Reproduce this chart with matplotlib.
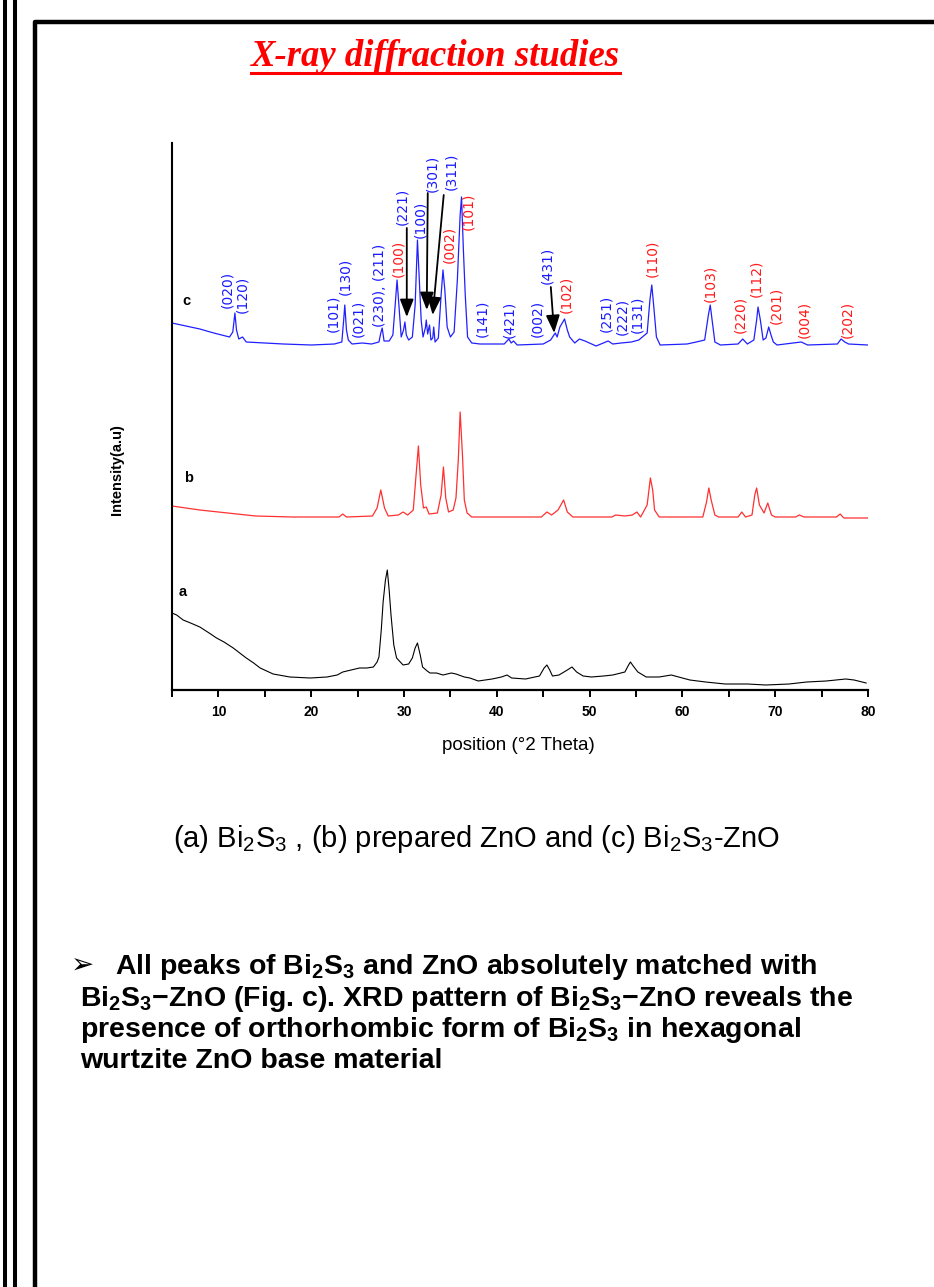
import matplotlib
matplotlib.use("Agg")
import matplotlib.pyplot as plt
from matplotlib.lines import Line2D
from matplotlib.ticker import MultipleLocator

plt.rcParams["mathtext.default"] = "regular"

W, H = 934, 1287

# (a) Bi2S3
theta_a = [5.0, 5.5, 6.2, 7.0, 8.0, 9.0, 9.8, 10.6, 11.6, 12.3, 13.0, 13.8, 14.5, 15.2,
           15.9, 17.7, 19.9, 21.7, 22.8, 23.4, 24.3, 25.2, 26.0, 26.7, 27.1, 27.3, 27.55,
           27.75, 28.0, 28.2, 28.4, 28.6, 28.9, 29.2, 29.9, 30.5, 30.9, 31.2, 31.45, 31.75,
           32.0, 32.5, 32.8, 33.5, 34.2, 35.1, 35.6, 36.5, 37.1, 38.0, 39.5, 40.5, 41.1,
           41.6, 43.1, 44.6, 45.1, 45.4, 45.7, 46.0, 46.7, 47.6, 48.1, 48.6, 49.3, 50.2,
           51.5, 52.5, 53.8, 54.2, 54.4, 54.7, 55.2, 56.1, 57.5, 58.8, 59.6, 60.8, 62.5,
           64.6, 67.0, 69.0, 71.5, 73.4, 75.5, 77.6, 78.5, 79.8]
int_a = [77, 75, 70, 67, 63, 57, 52, 48, 42, 37, 32, 27, 22, 19,
         16, 13, 12, 13, 15, 18, 20, 22, 22, 23, 28, 33, 60,
         88, 110, 120, 100, 75, 45, 32, 25, 26, 32, 42, 47, 35,
         23, 19, 17, 17, 15, 17, 16, 13, 12, 9, 11, 13, 15,
         12, 11, 14, 22, 25, 20, 14, 15, 20, 23, 18, 14, 13,
         14, 15, 18, 25, 28, 24, 18, 13, 13, 15, 13, 10, 8,
         6, 6, 5, 6, 8, 9, 11, 10, 7]

# (b) prepared ZnO - red trace
theta_b = [5.0, 8.0, 11.0, 14.0, 18.0, 23.0, 23.4, 23.8, 26.6, 27.1, 27.5, 27.9, 28.3,
           29.4, 29.9, 30.4, 31.0, 31.3, 31.55, 31.8, 32.1, 32.4, 32.7, 33.6, 34.0, 34.25,
           34.5, 34.8, 35.3, 35.6, 35.85, 36.05, 36.3, 36.5, 36.8, 37.3, 44.8, 45.4, 45.9,
           46.6, 47.2, 47.6, 48.2, 52.4, 52.8, 53.8, 54.6, 55.1, 55.5, 56.2, 56.55, 56.8,
           57.0, 57.5, 62.2, 62.6, 62.85, 63.1, 63.5, 63.9, 66.0, 66.4, 66.8, 67.5, 67.8,
           68.0, 68.3, 68.8, 69.2, 69.6, 70.0, 72.2, 72.6, 73.1, 76.6, 77.0, 77.4, 80.0]
int_b = [184, 180, 177, 174, 173, 173, 176, 173, 174, 182, 200, 182, 174,
         175, 178, 175, 180, 215, 244, 205, 182, 183, 176, 177, 195, 223,
         192, 178, 180, 192, 230, 278, 235, 190, 177, 173, 173, 178, 175,
         180, 190, 178, 173, 173, 175, 174, 175, 178, 173, 185, 212, 200,
         180, 173, 173, 188, 202, 190, 175, 173, 173, 178, 173, 175, 195,
         202, 185, 177, 187, 175, 173, 173, 175, 173, 173, 176, 172, 172]

# (c) Bi2S3-ZnO - blue trace
theta_c = [5.0, 6.5, 8.0, 9.5, 11.2, 11.55, 11.78, 11.95, 12.2, 12.6, 13.0, 15.0, 17.0,
           20.0, 22.5, 23.3, 23.5, 23.62, 23.8, 24.0, 24.4, 25.5, 26.5, 27.3, 27.5, 27.65,
           27.85, 28.4, 28.8, 29.05, 29.25, 29.45, 29.7, 29.95, 30.1, 30.25, 30.5, 30.9,
           31.2, 31.45, 31.65, 31.85, 32.05, 32.3, 32.4, 32.55, 32.75, 32.9, 33.1, 33.2,
           33.35, 33.7, 34.0, 34.2, 34.4, 34.65, 35.0, 35.4, 35.75, 36.05, 36.2, 36.4,
           36.6, 36.85, 37.3, 38.2, 40.8, 41.3, 41.55, 41.8, 42.2, 45.0, 45.8, 46.3, 46.5,
           46.8, 47.3, 47.6, 47.85, 48.4, 48.9, 49.5, 50.7, 52.0, 52.5, 53.4, 54.5, 55.3,
           56.2, 56.5, 56.7, 56.9, 57.2, 57.6, 60.5, 61.5, 62.4, 62.8, 63.0, 63.2, 63.5,
           64.1, 66.0, 66.5, 67.0, 67.7, 68.0, 68.15, 68.4, 68.7, 69.0, 69.3, 69.55, 69.8,
           70.2, 72.8, 73.5, 76.7, 77.1, 77.5, 77.9, 80.0]
int_c = [367, 364, 361, 357, 353, 358, 377, 360, 351, 353, 348, 347, 346,
         345, 346, 348, 370, 385, 360, 350, 346, 347, 346, 348, 357, 362,
         349, 349, 355, 385, 410, 385, 353, 360, 368, 355, 350, 353,
         385, 450, 410, 370, 353, 362, 370, 356, 365, 350, 352, 363,
         348, 352, 395, 420, 400, 363, 353, 358, 410, 475, 493, 440,
         395, 353, 347, 346, 346, 351, 347, 349, 345, 346, 350, 357, 353,
         363, 371, 360, 353, 347, 351, 349, 344, 349, 346, 347, 348, 350,
         357, 390, 405, 385, 353, 345, 346, 348, 350, 375, 385, 370, 348,
         345, 346, 351, 346, 350, 370, 383, 370, 350, 352, 363, 355, 348,
         345, 348, 345, 346, 351, 348, 346, 345]

# hkl labels on pattern c (blue = Bi2S3, red = ZnO)
hkl_text = ["(020)", "(120)", "(101)", "(130)", "(021)", "(230), (211)", "(100)", "(221)",
            "(100)", "(301)", "(311)", "(002)", "(101)", "(141)", "(421)", "(002)", "(431)",
            "(102)", "(251)", "(222)", "(131)", "(110)", "(103)", "(220)", "(112)", "(201)",
            "(004)", "(202)"]
hkl_phase = ["B", "B", "B", "B", "B", "B", "Z", "B",
             "B", "B", "B", "Z", "Z", "B", "B", "B", "B",
             "Z", "B", "B", "B", "Z", "Z", "Z", "Z", "Z",
             "Z", "Z"]
hkl_theta = [10.92, 12.53, 22.33, 23.62, 25.02, 27.39, 29.33, 29.76,
             31.70, 33.09, 35.14, 34.92, 36.97, 38.48, 41.38, 44.35, 45.45,
             47.45, 51.82, 53.48, 55.12, 56.77, 62.97, 66.25, 68.0, 70.08,
             73.1, 77.74]
hkl_base = [382, 377, 358, 395, 353, 363, 413, 465,
            452, 498, 500, 427, 460, 353, 352, 353, 406,
            377, 358, 355, 357, 413, 388, 357, 393, 366,
            352, 352]

# arrows from labels down to the small peaks: (start 2theta, start I, end 2theta, end I)
arrow_lines = [(30.30, 462, 30.30, 373),
               (32.56, 497, 32.45, 380),
               (34.28, 495, 33.09, 375),
               (45.82, 403, 46.18, 357)]

phase_colors = {"B": "#1a1aff", "Z": "#ff1a1a"}


def fx(x):
    return x / W


def fy(y):
    return 1 - y / H


fig = plt.figure(figsize=(W / 100, H / 100), dpi=100)
fig.patch.set_facecolor("white")

# slide border lines
for xpos in [5.3, 14.7]:
    fig.add_artist(Line2D([fx(xpos), fx(xpos)], [0, 1], color="black", lw=2.9,
                          transform=fig.transFigure))
fig.add_artist(Line2D([fx(35), fx(35), fx(W + 5)], [fy(H + 5), fy(22), fy(22)],
                      color="black", lw=3.2, solid_joinstyle="round",
                      transform=fig.transFigure))

# title
title = fig.text(fx(435), fy(56), "X-ray diffraction studies", color="#ff0000",
                 family="Liberation Serif", weight="bold", style="italic",
                 fontsize=26.5, ha="center", va="center")
fig.canvas.draw()
bb = title.get_window_extent()
fig.add_artist(Line2D([bb.x0 / W, bb.x1 / W], [fy(73), fy(73)], color="#ff0000",
                      lw=2.2, transform=fig.transFigure))

# XRD axes
ax = fig.add_axes([fx(172), fy(690), (868 - 172) / W, (690 - 143) / H])
ax.plot(theta_a, int_a, color="black", lw=0.8)
ax.plot(theta_b, int_b, color="#ff3030", lw=0.9)
ax.plot(theta_c, int_c, color="#2020ff", lw=0.9)
ax.set_xlim(5, 80)
ax.set_ylim(0, 547)

for t, th, base, ph in zip(hkl_text, hkl_theta, hkl_base, hkl_phase):
    ax.text(th, base, t, rotation=90, ha="center", va="bottom", fontsize=10,
            family="DejaVu Sans", color=phase_colors[ph])

for x0, y0, x1, y1 in arrow_lines:
    ax.annotate("", xy=(x1, y1), xytext=(x0, y0),
                arrowprops=dict(arrowstyle="-|>,head_width=0.35,head_length=0.9",
                                color="black", lw=1.3, mutation_scale=12,
                                shrinkA=0, shrinkB=0))

ax.text(6.6, 389, "c", fontsize=10.5, weight="bold", family="Liberation Sans",
        ha="center", va="center")
ax.text(6.75, 212, "b", fontsize=10.5, weight="bold", family="Liberation Sans",
        ha="center", va="center")
ax.text(6.2, 98, "a", fontsize=10.5, weight="bold", family="Liberation Sans",
        ha="center", va="center")

for side in ["top", "right"]:
    ax.spines[side].set_visible(False)
ax.spines["left"].set_linewidth(1.5)
ax.spines["bottom"].set_linewidth(1.6)
ax.set_yticks([])
ax.xaxis.set_major_locator(MultipleLocator(10))
ax.xaxis.set_minor_locator(MultipleLocator(5))
ax.tick_params(axis="x", which="both", direction="out", length=5, width=1.4)
ax.tick_params(axis="x", which="major", pad=6)
for lab in ax.get_xticklabels():
    lab.set_fontsize(10)
    lab.set_fontweight("bold")
    lab.set_family("Liberation Sans")

fig.text(fx(518), fy(745), "position (°2 Theta)", fontsize=13.5, ha="center",
         va="center", family="Liberation Sans")
fig.text(fx(117), fy(470), "Intensity(a.u)", fontsize=10.5, weight="bold", rotation=90,
         ha="center", va="center", family="Liberation Sans")

# caption
fig.text(fx(477), fy(847), r"(a) Bi$_2$S$_3$ , (b) prepared ZnO and (c) Bi$_2$S$_3$-ZnO",
         fontsize=21, ha="center", va="baseline", family="Liberation Sans")

# bullet text
fig.text(fx(71), fy(974), "\u27a2", fontsize=20, family="DejaVu Sans", va="baseline")
bullet_lines = [r"All peaks of Bi$_2$S$_3$ and ZnO absolutely matched with",
                r"Bi$_2$S$_3$−ZnO (Fig. c). XRD pattern of Bi$_2$S$_3$−ZnO reveals the",
                r"presence of orthorhombic form of Bi$_2$S$_3$ in hexagonal",
                "wurtzite ZnO base material"]
line_x = [115, 80, 80, 80]
line_y = [974, 1006, 1037, 1068]
for txt, lx, ly in zip(bullet_lines, line_x, line_y):
    fig.text(fx(lx), fy(ly), txt, fontsize=20.5, weight="bold", family="Liberation Sans",
             va="baseline", ha="left")

fig.savefig("out.png", dpi=100, facecolor="white")
